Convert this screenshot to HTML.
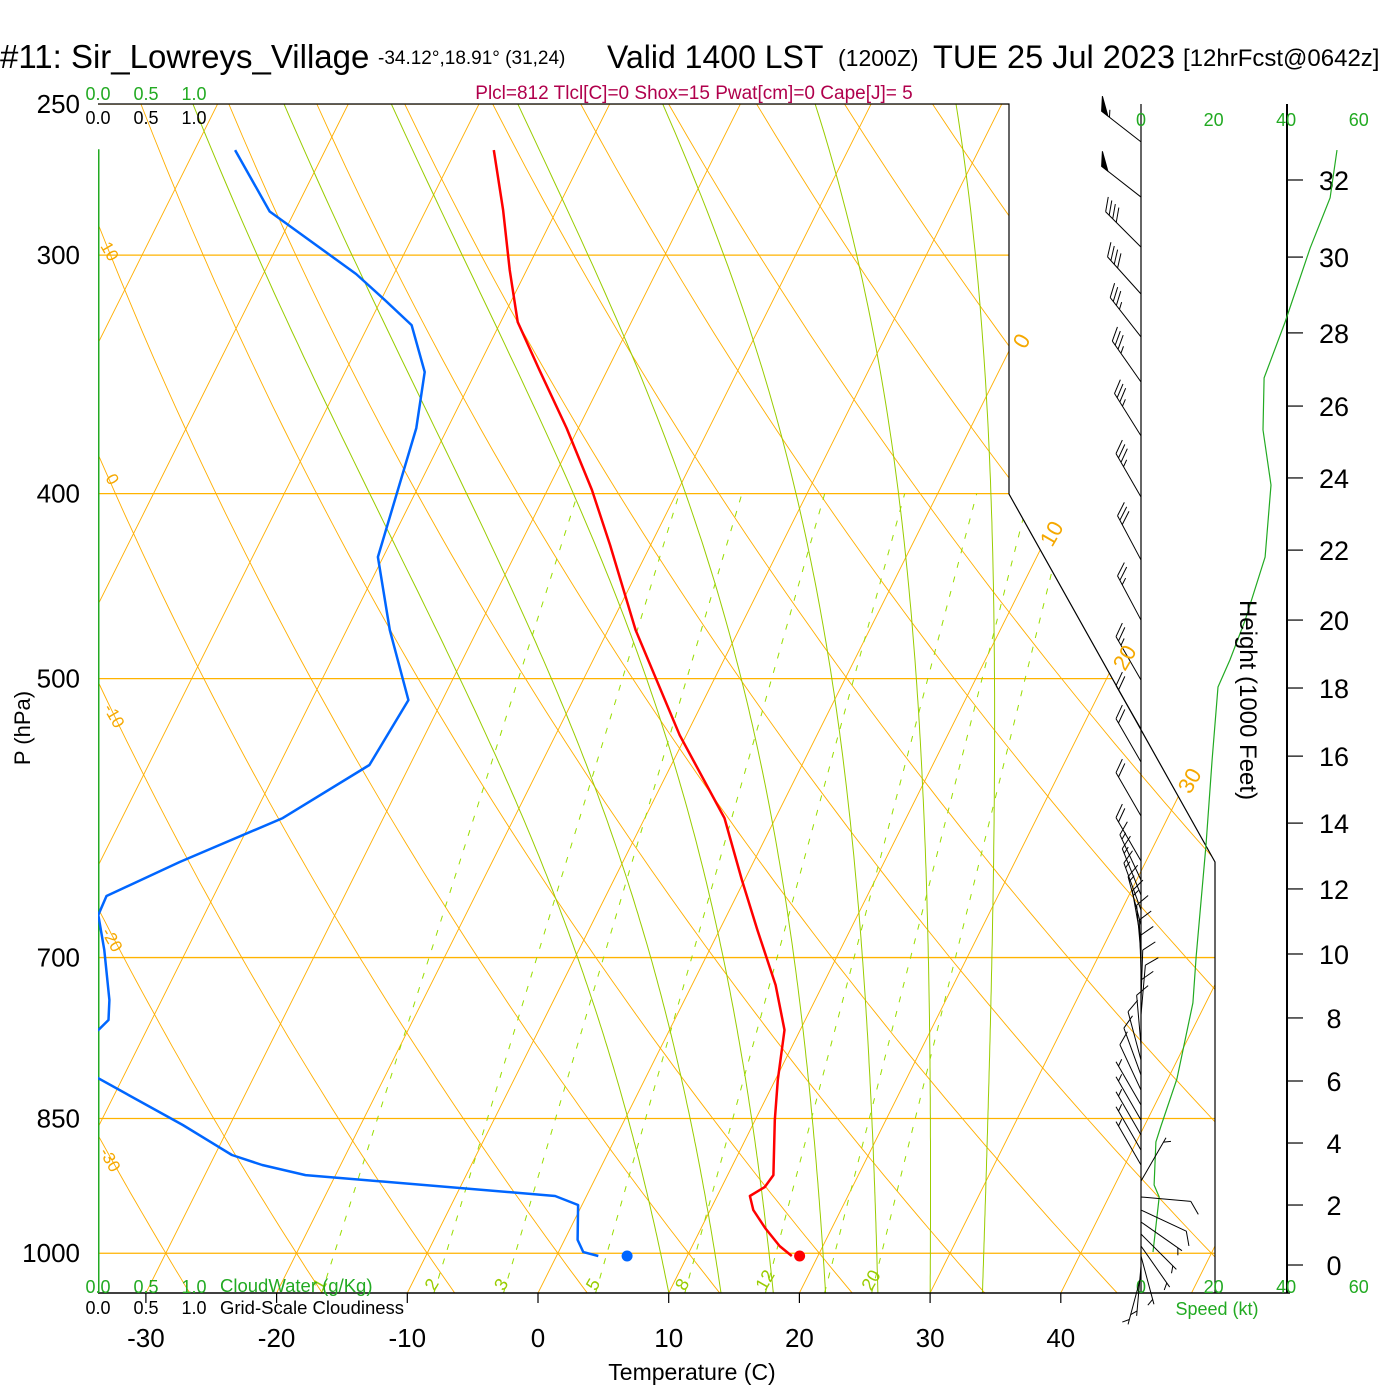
<!DOCTYPE html>
<html><head><meta charset="utf-8"><style>
html,body{margin:0;padding:0;background:#fff;}
svg{display:block;font-family:"Liberation Sans",sans-serif;}
</style></head><body>
<svg id="c" width="1400" height="1400" viewBox="0 0 1400 1400" xmlns="http://www.w3.org/2000/svg">
<defs><clipPath id="plotclip"><polygon points="98,104 1009,104 1009,494 1215,862 1215,1293 98,1293"/></clipPath></defs>
<g id="title">
<text x="0" y="68" font-size="33">#11: Sir_Lowreys_Village</text>
<text x="378" y="64" font-size="19">-34.12°,18.91° (31,24)</text>
<text x="607" y="68" font-size="32">Valid 1400 LST</text>
<text x="838" y="66" font-size="23">(1200Z)</text>
<text x="933" y="68" font-size="32.5">TUE 25 Jul 2023</text>
<text x="1183" y="66" font-size="24">[12hrFcst@0642z]</text>
<text x="694" y="99" font-size="19" fill="#b0004c" text-anchor="middle">Plcl=812 Tlcl[C]=0 Shox=15 Pwat[cm]=0 Cape[J]= 5</text>
</g>
<g id="grid" clip-path="url(#plotclip)"></g>
<g id="frame">
<polyline points="98,104 1009,104 1009,494 1215,862 1215,1293" fill="none" stroke="#000" stroke-width="1.2"/>
<line x1="98" y1="1293" x2="1290" y2="1293" stroke="#000" stroke-width="1.5"/>
<line x1="1141" y1="104" x2="1141" y2="1293" stroke="#000" stroke-width="1.2"/>
<line x1="1287" y1="104" x2="1287" y2="1293" stroke="#000" stroke-width="2"/>
</g>
<g id="profiles" clip-path="url(#plotclip)"></g>
<g id="axes"></g>
<g id="wind"></g>
<g id="labels">
<g font-size="18">
<text x="98" y="100" fill="#22aa22" text-anchor="middle">0.0</text>
<text x="146" y="100" fill="#22aa22" text-anchor="middle">0.5</text>
<text x="194" y="100" fill="#22aa22" text-anchor="middle">1.0</text>
<text x="98" y="124" text-anchor="middle">0.0</text>
<text x="146" y="124" text-anchor="middle">0.5</text>
<text x="194" y="124" text-anchor="middle">1.0</text>
<text x="98" y="1293" fill="#22aa22" text-anchor="middle">0.0</text>
<text x="146" y="1293" fill="#22aa22" text-anchor="middle">0.5</text>
<text x="194" y="1293" fill="#22aa22" text-anchor="middle">1.0</text>
<text x="98" y="1314" text-anchor="middle">0.0</text>
<text x="146" y="1314" text-anchor="middle">0.5</text>
<text x="194" y="1314" text-anchor="middle">1.0</text>
</g>
<text x="220" y="1292" font-size="18.5" fill="#22aa22">CloudWater (g/Kg)</text>
<text x="220" y="1314" font-size="18.5">Grid-Scale Cloudiness</text>
<text x="1217" y="1315" font-size="18" fill="#22aa22" text-anchor="middle">Speed (kt)</text>
<text x="692" y="1380" font-size="23" text-anchor="middle">Temperature (C)</text>
<text transform="translate(30,728) rotate(-90)" font-size="22" text-anchor="middle">P (hPa)</text>
<text transform="translate(1240,700) rotate(90)" font-size="24" text-anchor="middle">Height (1000 Feet)</text>
<g fill="#f5a800" font-size="22">
<text transform="translate(1025,350) rotate(-60)">0</text>
<text transform="translate(1052,548) rotate(-60)">10</text>
<text transform="translate(1125,672) rotate(-60)">20</text>
<text transform="translate(1190,795) rotate(-60)">30</text>
<text transform="translate(100,246) rotate(60)" font-size="17">10</text>
<text transform="translate(105,478) rotate(60)" font-size="17">0</text>
<text transform="translate(103,708) rotate(60)" font-size="17">-10</text>
<text transform="translate(101,932) rotate(60)" font-size="17">-20</text>
<text transform="translate(99,1152) rotate(60)" font-size="17">-30</text>
</g>
</g>
<script>
// ---------------- data ----------------
var tempP   = [264.3,284.1,305.4,325.2,344.6,369.6,398.2,425.6,471.5,535.3,591.6,637.5,677.1,723.6,763.9,811.4,851.6,910,923.2,933.3,949.2,970.1,991.4,1003.3];
var tempC   = [-47.1,-44.1,-41.3,-38.7,-35.2,-30.9,-26.6,-23.1,-17.9,-10.5,-3.9,-0.2,2.9,6.4,8.8,10.2,11.5,13.5,13.3,12.5,13.3,14.9,16.7,18.0];
var dewP    = [264.3,284.6,306.9,316.7,326.4,345.4,369.6,431.8,471.5,513.1,554.9,591.6,623.8,649.9,665,693.7,736.8,754.8,763.9,782.5,809.5,856.7,888.3,899,910,933.3,943.5,984,998.6,1003.3];
var dewC    = [-66.9,-61.9,-52.9,-49.7,-46.7,-43.9,-42.4,-40.4,-36.7,-32.6,-33.1,-37.7,-43.9,-48.2,-48.1,-46.3,-44.0,-43.3,-43.7,-47.4,-41.9,-33.6,-28.7,-26.0,-22.3,-2.4,-0.3,1.0,1.9,3.2];
var sfcP = 1003.3, sfcT = 18.6, sfcTd = 5.4;
var cloudP = [264,1049];
var cloudW = [0,0];
var pTicks = [250,300,400,500,700,850,1000];
var tTicks = [-30,-20,-10,0,10,20,30,40];
var isoT = [-110,-100,-90,-80,-70,-60,-50,-40,-30,-20,-10,0,10,20,30,40,50];
var thetaC = [-40,-30,-20,-10,0,10,20,30,40,50,60,70,80,90,100,110,120,130,140,150];
var moistT0 = [10,14,18,22,26,30,34];
var mixW = [1,2,3,5,8,12,16,20];
var mixLabels = [1,2,3,5,8,12,20];
var hTicks = [0,2,4,6,8,10,12,14,16,18,20,22,24,26,28,30,32];
var hTickP = [1014.3,943.5,875.5,812.4,752.9,697.0,644.4,595.2,549.0,505.7,465.9,428.2,392.5,359.9,329.5,300.7,274.0];
var speedTicks = [0,20,40,60];
var spdP = [264.3,280,297.4,325.2,347.9,370.4,395.9,431.8,465.9,488.9,505.1,551.6,611.1,698.7,739.4,810.4,857.7,874.4,921,934.4,998.5];
var spdKt = [54.0,52.1,46.6,39.7,33.9,33.6,35.8,34.2,28.7,24.5,21.2,19.6,17.9,15.2,14.3,9.9,5.5,4.1,3.6,5.0,3.3];
var barbP = [261.7,279.7,297.1,314.4,331.1,349.6,373.1,401.6,433.3,465.9,500.8,531.3,552.9,590.1,623,637.5,649.2,661,673,685.3,697.8,710.6,723.6,736.8,750.2,763.9,777.9,792.1,806.6,821.3,836.3,851.6,867.1,883,899,916.6,934.4,949.2,963,977.1,991.4,1003.3,1015.6,1027.9];
var barbDir = [308,308,315,318,322,325,328,330,332,332,330,330,330,330,330,335,338,340,345,350,355,358,0,2,5,0,355,345,340,335,330,330,330,330,330,30,95,115,125,135,145,165,185,195];
var barbKt = [55,52,42,40,35,33,33,33,30,27,25,22,22,20,18,15,15,14,13,13,12,12,12,12,11,10,10,9,8,8,7,7,6,6,5,5,8,8,7,6,5,4,3,3];

// ---------------- axis functions ----------------
function yOf(p){ return 104 + 829*Math.log(p/250); }
function xOf(T,p){ return 538 + 13.07*T + 0.5*(1293 - yOf(p)); }
function xSpd(k){ return 1141 + 3.63*k; }
function xCloud(w){ return 98 + 96*w; }
var NS='http://www.w3.org/2000/svg';
function mk(tag, attrs, parent){ var e=document.createElementNS(NS,tag); for(var k in attrs) e.setAttribute(k,attrs[k]); parent.appendChild(e); return e; }
function es(T){ return 6.112*Math.exp(17.67*T/(T+243.5)); }
var grid=document.getElementById('grid'), prof=document.getElementById('profiles'), axes=document.getElementById('axes'), wind=document.getElementById('wind');

pTicks.forEach(function(p){
  var l=mk('line',{x1:98,y1:yOf(p),x2:1300,y2:yOf(p),stroke:'#ffb300','stroke-width':1.3},grid);
  
  
  var t=mk('text',{x:80,y:yOf(p)+9,'font-size':26,'text-anchor':'end'},axes);
  t.textContent=p;
  
  
});
isoT.forEach(function(T){
  var l=mk('line',{x1:xOf(T,1050),y1:yOf(1050),x2:xOf(T,240),y2:yOf(240),stroke:'#ffae00','stroke-width':0.9},grid);
  
  
});
thetaC.forEach(function(th){
  var pts=[];
  for(var p=1060;p>=240;p-=10){ var T=(th+273.15)*Math.pow(p/1000,0.2857)-273.15; pts.push(xOf(T,p).toFixed(1)+','+yOf(p).toFixed(1)); }
  var l=mk('polyline',{points:pts.join(' '),fill:'none',stroke:'#ffae00','stroke-width':0.9},grid);
  
  
});
moistT0.forEach(function(T0){
  var T=T0, pts=[];
  for(var p=1049;p>=240;p-=1){
    if((1049-p)%5===0) pts.push(xOf(T,p).toFixed(1)+','+yOf(p).toFixed(1));
    var Tk=T+273.15, e=es(T), rs=0.622*e/(p-e);
    var d=(287*Tk+2.5e6*rs)/(p*(1004+2.5e6*2.5e6*rs*0.622/(287*Tk*Tk)));
    T-=d;
  }
  var l=mk('polyline',{points:pts.join(' '),fill:'none',stroke:'#99cc00','stroke-width':1},grid);
  
  
});
function tdFromW(w,p){ var e=w*p/(622+w); var a=Math.log(e/6.112); return 243.5*a/(17.67-a); }
mixW.forEach(function(w){
  var l=mk('line',{x1:xOf(tdFromW(w,1049),1049),y1:yOf(1049),x2:xOf(tdFromW(w,400),400),y2:yOf(400),stroke:'#99dd00','stroke-width':1,'stroke-dasharray':'6,9'},grid);
  
  
});
mixLabels.forEach(function(w){
  var x=xOf(tdFromW(w,1030),1030), y=yOf(1030);
  var t=mk('text',{transform:'translate('+(x-4)+','+(y+14)+') rotate(-60)','font-size':18,fill:'#99cc00'},axes);
  t.textContent=w;
  
  
});
function line(P,V,color,w,name){
  var pts=P.map(function(p,i){return xOf(V[i],p).toFixed(1)+','+yOf(p).toFixed(1);});
  var l=mk('polyline',{points:pts.join(' '),fill:'none',stroke:color,'stroke-width':w,'stroke-linejoin':'round'},prof);
  
  
}
var cw=mk('polyline',{points:cloudP.map(function(p,i){return xCloud(cloudW[i])+','+yOf(p).toFixed(1);}).join(' '),fill:'none',stroke:'#22aa22','stroke-width':3},prof);


line(dewP,dewC,'#0066ff',2.5,'dewpoint-line');
line(tempP,tempC,'#ff0000',2.5,'temperature-line');
var d1=mk('circle',{cx:xOf(sfcT,sfcP),cy:yOf(sfcP),r:5.5,fill:'#ff0000'},prof);


var d2=mk('circle',{cx:xOf(sfcTd,sfcP),cy:yOf(sfcP),r:5.5,fill:'#0066ff'},prof);


tTicks.forEach(function(T){
  var x=538+13.07*T;
  mk('line',{x1:x,y1:1293,x2:x,y2:1303,stroke:'#000','stroke-width':1.2},axes);
  var t=mk('text',{x:x,y:1347,'font-size':26,'text-anchor':'middle'},axes);
  t.textContent=T;
  
  
});
hTicks.forEach(function(h,i){
  var y=yOf(hTickP[i]);
  mk('line',{x1:1287,y1:y,x2:1303,y2:y,stroke:'#000','stroke-width':1.2},axes);
  var t=mk('text',{x:1334,y:y+10,'font-size':27,'text-anchor':'middle'},axes);
  t.textContent=h;
  
  
});
speedTicks.forEach(function(k){
  [126,1293].forEach(function(y){
    var t=mk('text',{x:xSpd(k),y:y,'font-size':18,fill:'#22aa22','text-anchor':'middle'},axes);
    t.textContent=k;
    
    
  });
});
var sp=mk('polyline',{points:spdP.map(function(p,i){return xSpd(spdKt[i]).toFixed(1)+','+yOf(p).toFixed(1);}).join(' '),fill:'none',stroke:'#22aa22','stroke-width':1.2},wind);


barbP.forEach(function(p,i){
  var y=yOf(p), a=barbDir[i]*Math.PI/180, L=50;
  var dx=Math.sin(a), dy=-Math.cos(a);
  var bx=1141, tx=bx+dx*L, ty=y+dy*L;
  var g=mk('g',{stroke:'#000','stroke-width':1,fill:'#000'},wind);
  
  
  mk('line',{x1:bx,y1:y,x2:tx,y2:ty},g);
  var c=Math.cos(55*Math.PI/180), s=Math.sin(55*Math.PI/180);
  var fx=dx*c-dy*s, fy=dx*s+dy*c, F=15;
  var k=Math.round(barbKt[i]/5)*5, pos=0;
  while(k>=50){
    var x0=tx-dx*pos, y0=ty-dy*pos, x1=tx-dx*(pos+8), y1=ty-dy*(pos+8);
    mk('polygon',{points:x0+','+y0+' '+(x0+fx*F)+','+(y0+fy*F)+' '+x1+','+y1},g);
    k-=50; pos+=10;
  }
  while(k>=10){ var x0=tx-dx*pos,y0=ty-dy*pos; mk('line',{x1:x0,y1:y0,x2:x0+fx*F,y2:y0+fy*F},g); k-=10; pos+=5; }
  if(k>=5){ if(pos===0)pos=5; var x0=tx-dx*pos,y0=ty-dy*pos; mk('line',{x1:x0,y1:y0,x2:x0+fx*F/2,y2:y0+fy*F/2},g); }
});
</script>
</svg>
</body></html>
